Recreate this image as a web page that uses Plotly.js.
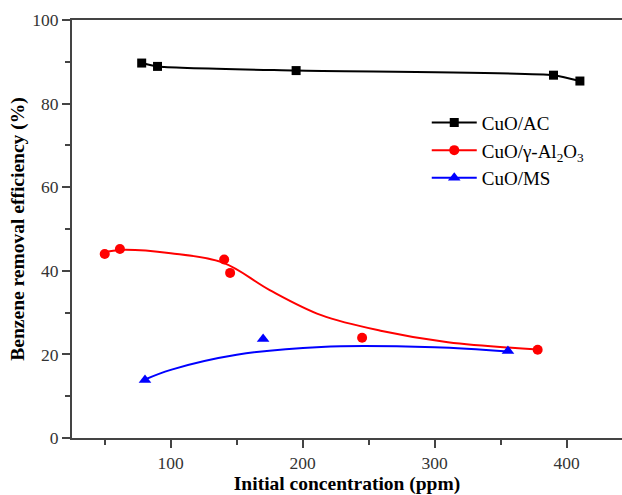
<!DOCTYPE html>
<html><head><meta charset="utf-8">
<script src="https://cdn.plot.ly/plotly-3.0.1.min.js"></script>
<style>html,body{margin:0;padding:0;background:#fff}#chart{width:622px;height:495px}</style>
</head><body><div id="chart"></div>
<script>
// Measured points
const acX = [78, 90, 195, 390, 410];
const acY = [89.7, 88.9, 87.9, 86.8, 85.4];
const alX = [50, 61.5, 140.5, 145, 245, 378];
const alY = [44.0, 45.2, 42.7, 39.5, 24.0, 21.1];
const msX = [80.5, 170, 355.5];
const msY = [13.9, 23.7, 20.8];
// Fitted curves
const alFitX = [50, 62, 100, 140, 175, 214, 260, 310, 378];
const alFitY = [44.5, 45.0, 44.2, 41.9, 35.4, 29.4, 25.6, 22.9, 21.2];
const msFitX = [80.5, 100, 150, 214, 300, 355.5];
const msFitY = [14.0, 16.3, 19.9, 21.8, 21.7, 20.7];
const names = ['CuO/AC', 'CuO/γ-Al<sub>2</sub>O<sub>3</sub>', 'CuO/MS'];
const xTicks = [100, 200, 300, 400];
const yTicks = [0, 20, 40, 60, 80, 100];

const serif = '"Liberation Serif", "Times New Roman", serif';
const traces = [
  {x: acX, y: acY, mode: 'lines+markers', name: names[0], line: {color: '#000', width: 2, shape: 'spline', smoothing: 0.6},
   marker: {symbol: 'square', size: 9, color: '#000'}},
  {x: alFitX, y: alFitY, mode: 'lines', showlegend: false, line: {color: '#ff0000', width: 2, shape: 'spline'}},
  {x: alX, y: alY, mode: 'markers', showlegend: false, marker: {symbol: 'circle', size: 10, color: '#ff0000'}},
  {x: [null], y: [null], mode: 'lines+markers', name: names[1], line: {color: '#ff0000', width: 2},
   marker: {symbol: 'circle', size: 10, color: '#ff0000'}},
  {x: msFitX, y: msFitY, mode: 'lines', showlegend: false, line: {color: '#0000ff', width: 2, shape: 'spline'}},
  {x: msX, y: msY, mode: 'markers', showlegend: false, marker: {symbol: 'triangle-up', size: 11, color: '#0000ff'}},
  {x: [null], y: [null], mode: 'lines+markers', name: names[2], line: {color: '#0000ff', width: 2},
   marker: {symbol: 'triangle-up', size: 11, color: '#0000ff'}}
];
const layout = {
  width: 622, height: 495,
  margin: {l: 72, r: 0, t: 20, b: 57},
  paper_bgcolor: '#fff', plot_bgcolor: '#fff',
  font: {family: serif, size: 17.5, color: '#333'},
  showlegend: true,
  legend: {x: 0.645, y: 0.8, xanchor: 'left', yanchor: 'top', bgcolor: 'rgba(0,0,0,0)', itemwidth: 45,
           font: {family: serif, size: 19, color: '#000'}, traceorder: 'normal'},
  xaxis: {range: [25.2, 441.9], tickvals: xTicks, ticktext: xTicks.map(String), ticks: 'outside', ticklen: 8, tickwidth: 2,
          tickcolor: '#444', showline: true, linecolor: '#444', linewidth: 2, mirror: true, showgrid: false, zeroline: false,
          minor: {tickvals: [50, 150, 250, 350], ticks: 'outside', ticklen: 5, tickcolor: '#444', tickwidth: 2, showgrid: false},
          title: {text: '<b>Initial concentration (ppm)</b>', font: {family: serif, size: 19.5, color: '#000'}, standoff: 6}},
  yaxis: {range: [0, 100], tickvals: yTicks, ticktext: yTicks.map(String), ticks: 'outside', ticklen: 8, tickwidth: 2,
          tickcolor: '#444', showline: true, linecolor: '#444', linewidth: 2, showgrid: false, zeroline: false,
          minor: {tickvals: [10, 30, 50, 70, 90], ticks: 'outside', ticklen: 5, tickcolor: '#444', tickwidth: 2, showgrid: false},
          title: {text: '<b>Benzene removal efficiency (%)</b>', font: {family: serif, size: 19.5, color: '#000'}, standoff: 2}}
};
Plotly.newPlot('chart', traces, layout, {displayModeBar: false, staticPlot: true});
</script></body></html>
